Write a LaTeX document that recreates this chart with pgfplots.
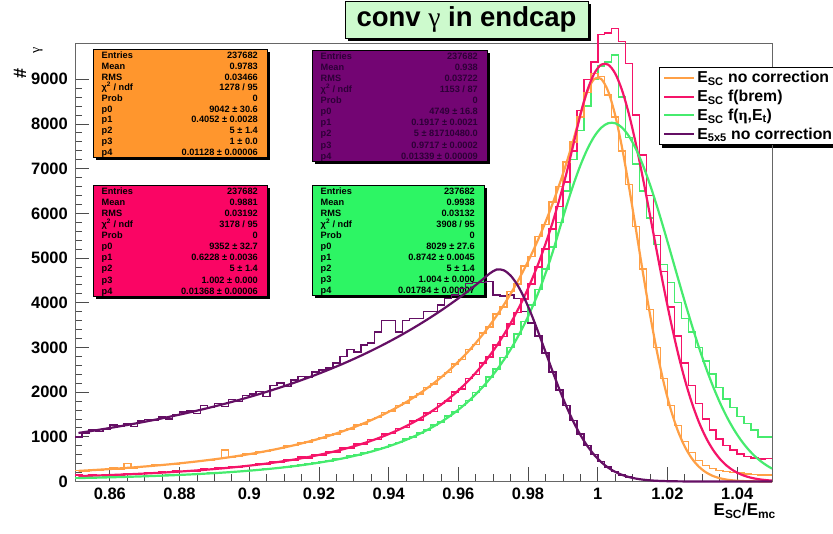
\documentclass[border=0pt]{standalone}
\usepackage{fontspec}
\setmainfont{Liberation Sans}
\newfontfamily\symf{Liberation Serif}
\usepackage{pgfplots}
\pgfplotsset{compat=1.18}
\usepackage{pgfplotstable}
\usetikzlibrary{shadows}

\definecolor{cor}{RGB}{255,160,70}
\definecolor{cpk}{RGB}{245,20,105}
\definecolor{cgr}{RGB}{70,235,110}
\definecolor{cpu}{RGB}{100,15,100}
\definecolor{bor}{RGB}{255,150,45}
\definecolor{bpk}{RGB}{250,5,100}
\definecolor{bgr}{RGB}{45,245,100}
\definecolor{bpu}{RGB}{115,5,115}
\definecolor{tpu}{RGB}{45,0,55}
\definecolor{ttl}{RGB}{205,250,205}

\pgfplotstableread{
xl xc oh of ph pf gh gf uh uf
0.850 0.851 250 237.1 140 120.4 80 77.0 1000 1086.2
0.852 0.853 240 245.7 120 125.3 95 80.3 1080 1109.8
0.854 0.855 262 254.6 150 130.4 75 83.8 1150 1133.9
0.856 0.857 258 263.9 130 135.8 90 87.4 1120 1158.8
0.858 0.859 270 273.6 145 141.4 100 91.3 1180 1184.2
0.860 0.861 300 283.8 160 147.4 90 95.3 1260 1210.4
0.862 0.863 285 294.3 150 153.6 105 99.6 1240 1237.1
0.864 0.865 400 305.4 175 160.2 100 104.1 1290 1264.7
0.866 0.867 300 317.0 160 167.1 115 108.8 1230 1292.9
0.868 0.869 340 329.1 180 174.3 110 113.8 1350 1321.9
0.870 0.871 330 341.8 200 181.9 125 119.1 1390 1351.8
0.872 0.873 372 355.1 185 190.0 120 124.7 1360 1382.4
0.874 0.875 355 369.0 210 198.4 135 130.6 1440 1413.8
0.876 0.877 380 383.5 200 207.4 140 136.8 1400 1446.2
0.878 0.879 392 398.8 230 216.8 140 143.4 1500 1479.4
0.880 0.881 430 414.7 220 226.7 160 150.4 1560 1513.6
0.882 0.883 420 431.5 250 237.2 155 157.8 1580 1548.6
0.884 0.885 445 449.0 240 248.3 170 165.6 1520 1584.7
0.886 0.887 470 467.5 275 259.9 175 173.9 1700 1621.7
0.888 0.889 478 486.8 265 272.4 185 182.8 1650 1659.9
0.890 0.891 515 507.1 300 285.4 195 192.1 1740 1699.1
0.892 0.893 700 528.5 290 299.3 200 202.0 1680 1739.4
0.894 0.895 545 550.9 335 313.8 215 212.5 1840 1780.9
0.896 0.897 570 574.5 320 329.4 225 223.8 1790 1823.6
0.898 0.899 610 599.3 360 345.8 240 235.7 1920 1867.4
0.900 0.901 620 625.3 355 363.3 245 248.5 1960 1912.7
0.902 0.903 660 652.8 400 381.7 265 261.9 2010 1959.0
0.904 0.905 670 681.7 390 401.5 280 276.4 1900 2007.0
0.906 0.907 720 712.2 440 422.2 290 291.8 2150 2056.2
0.908 0.909 740 744.4 430 444.5 315 308.3 2200 2107.0
0.910 0.911 790 778.2 490 468.0 325 325.8 2130 2159.1
0.912 0.913 805 814.0 480 493.3 350 344.6 2270 2213.0
0.914 0.915 860 851.8 545 519.9 365 364.6 2350 2268.3
0.916 0.917 880 891.6 530 548.6 395 386.3 2340 2325.5
0.918 0.919 945 933.8 600 578.8 410 409.2 2450 2384.2
0.920 0.921 975 978.3 595 611.5 445 434.1 2500 2444.9
0.922 0.923 1040 1025.4 670 645.9 460 460.5 2540 2507.3
0.924 0.925 1060 1075.2 665 683.2 500 489.2 2650 2571.9
0.926 0.927 1140 1128.1 750 722.6 520 519.6 2800 2638.0
0.928 0.929 1170 1184.0 745 765.2 565 552.8 2950 2706.7
0.930 0.931 1260 1243.3 840 810.4 590 588.2 2900 2777.1
0.932 0.933 1290 1306.2 835 859.5 640 626.7 3050 2850.1
0.934 0.935 1390 1373.0 940 911.4 670 667.8 3100 2925.0
0.936 0.937 1430 1443.9 945 967.9 730 712.8 3350 3002.8
0.938 0.939 1540 1519.2 1060 1027.9 760 760.8 3600 3082.6
0.940 0.941 1580 1599.3 1070 1093.2 830 813.5 3600 3165.3
0.942 0.943 1700 1684.5 1190 1162.7 870 869.8 3350 3250.3
0.944 0.945 1760 1775.3 1210 1238.6 950 931.7 3600 3338.7
0.946 0.947 1890 1871.9 1350 1319.4 1000 998.0 3650 3429.2
0.948 0.949 1960 1975.0 1380 1407.7 1090 1071.2 3650 3523.3
0.950 0.951 2100 2084.9 1530 1502.0 1150 1149.6 3800 3620.0
0.952 0.953 2180 2202.2 1570 1605.3 1260 1236.4 3800 3720.4
0.954 0.955 2350 2327.6 1750 1715.7 1330 1329.7 3950 3823.6
0.956 0.957 2440 2461.6 1800 1837.1 1460 1433.2 4100 3930.9
0.958 0.959 2630 2605.0 2000 1967.0 1550 1544.7 4170 4041.2
0.960 0.961 2730 2758.5 2070 2110.2 1700 1668.8 4320 4155.9
0.962 0.963 2950 2923.0 2300 2263.8 1810 1802.8 4430 4273.8
0.964 0.965 3070 3099.6 2390 2433.6 1990 1952.4 4450 4396.5
0.966 0.967 3320 3289.0 2650 2616.2 2130 2114.4 4450 4522.7
0.968 0.969 3460 3492.4 2780 2818.5 2340 2295.9 4470 4653.7
0.970 0.971 3750 3711.1 3050 3036.4 2520 2493.1 4170 4743.5
0.972 0.973 3900 3946.6 3240 3278.6 2770 2714.8 4150 4726.7
0.974 0.975 4250 4200.1 3520 3540.1 3000 2956.1 4170 4606.9
0.976 0.977 4420 4473.5 3780 3831.8 3300 3228.5 4100 4391.2
0.978 0.979 4820 4768.5 4080 4147.5 3580 3526.0 3800 4093.2
0.980 0.981 5030 5086.8 4420 4500.9 3950 3863.4 3550 3731.2
0.982 0.983 5480 5431.3 4800 4884.2 4300 4233.1 3250 3326.3
0.984 0.985 5750 5804.1 5200 5315.3 4750 4654.2 2870 2899.7
0.986 0.987 6250 6208.0 5650 5784.3 5250 5117.2 2450 2472.2
0.988 0.989 6600 6646.3 6150 6313.1 5800 5638.4 2050 2061.2
0.990 0.991 7150 7122.2 6700 6890.4 6500 6156.8 1700 1680.6
0.992 0.993 7600 7639.6 7400 7538.2 7200 6639.1 1360 1339.9
0.994 0.995 8150 8202.9 8300 8204.4 7850 7069.6 1060 1044.9
0.996 0.997 8700 8727.8 9000 8747.7 8400 7434.1 810 796.9
0.998 0.999 9130 9006.5 9390 9129.8 9000 7719.8 600 594.3
1.000 1.001 9060 9006.5 10000 9327.0 9300 7916.3 450 433.4
1.002 1.003 8650 8727.8 10030 9327.0 9390 8016.4 320 309.1
1.004 1.005 8150 8195.9 10140 9129.8 9540 8016.4 220 215.5
1.006 1.007 7400 7458.3 9840 8747.7 8600 7916.3 150 147.0
1.008 1.009 6650 6577.2 9350 8204.4 7700 7719.8 100 98.1
1.010 1.011 5700 5620.6 8200 7532.2 7100 7434.1 70 64.0
1.012 1.013 4750 4654.1 7300 6768.9 6500 7069.6 40 40.8
1.014 1.015 3850 3734.7 6400 5954.2 5900 6639.1 25 25.5
1.016 1.017 3000 2904.4 5500 5126.5 5300 6156.8 15 15.5
1.018 1.019 2300 2188.6 4700 4320.9 4850 5638.4 10 9.3
1.020 1.021 1700 1598.3 3900 3564.6 4450 5099.2 8 5.4
1.022 1.023 1250 1131.1 3250 2878.6 4000 4553.7 5 3.1
1.024 1.025 900 775.8 2650 2275.5 3650 4015.9 3 1.7
1.026 1.027 650 515.6 2150 1760.5 3350 3497.3 2 0.9
1.028 1.029 470 332.0 1750 1333.6 3000 3007.7 2 0.5
1.030 1.031 360 207.2 1400 988.8 2700 2554.4 1 0.2
1.032 1.033 290 125.3 1150 717.6 2400 2142.1 1 0.1
1.034 1.035 250 73.4 950 509.7 2100 1774.1 0 0
1.036 1.037 220 41.7 800 354.3 1850 1450.8 0 0
1.038 1.039 200 22.9 700 241.2 1650 1171.9 0 0
1.040 1.041 190 12.2 620 160.7 1450 934.7 0 0
1.042 1.043 170 6.3 560 104.8 1300 736.2 0 0
1.044 1.045 160 3.2 530 66.9 1150 572.5 0 0
1.046 1.047 150 1.5 500 41.8 1000 439.6 0 0
1.048 1.049 140 0.7 510 25.6 990 333.4 0 0
1.050 1.050 140 0.5 510 19.8 990 289.4 0 0
}\datatab

\newcommand\statfont{\bfseries\fontsize{9.2}{11}\selectfont}
% #1 x0, #2 ytop, #3 x1, #4 ybot (pixels from top), #5 fill, #6 text colour, #7 values
\newcommand\statbox[7]{%
  \fill[black] (#1pt+3pt,534pt-#4pt-3pt) rectangle (#3pt+3pt,534pt-#2pt-3pt);
  \filldraw[fill=#5,draw=black,line width=0.6pt] (#1pt,534pt-#4pt) rectangle (#3pt,534pt-#2pt);
  \foreach \lab [count=\i from 0] in {Entries,Mean,RMS,{χ\textsuperscript{2} / ndf},Prob,p0,p1,p2,p3,p4} {
    \pgfmathsetmacro\yy{534-#2-9.6-(#4-#2-11.5)*\i/9}
    \node[anchor=base west,inner sep=0pt,text=#6,font=\statfont] at (#1pt+8.5pt,\yy pt) {\lab};
  }
  \foreach \val [count=\i from 0] in {#7} {
    \pgfmathsetmacro\yy{534-#2-9.6-(#4-#2-11.5)*\i/9}
    \node[anchor=base east,inner sep=0pt,text=#6,font=\statfont] at (#3pt-9pt,\yy pt) {\val};
  }
}

\begin{document}
\begin{tikzpicture}
\useasboundingbox (0,0) rectangle (833pt,534pt);
\fill[white] (0,0) rectangle (833pt,534pt);

\statbox{93}{49}{267}{157}{bor}{black}{237682,0.9783,0.03466,1278 / 95,0,9042 ± 30.6,0.4052 ± 0.0028,5 ± 1.4,1 ± 0.0,0.01128 ± 0.00006}
\statbox{312}{50}{487}{161}{bpu}{tpu}{237682,0.938,0.03722,1153 / 87,0,4749 ± 16.8,0.1917 ± 0.0021,5 ± 81710480.0,0.9717 ± 0.0002,0.01339 ± 0.00009}
\statbox{93}{185}{267}{296}{bpk}{black}{237682,0.9881,0.03192,3178 / 95,0,9352 ± 32.7,0.6228 ± 0.0036,5 ± 1.4,1.002 ± 0.000,0.01368 ± 0.00006}
\statbox{312}{185}{484}{295}{bgr}{black}{237682,0.9938,0.03132,3908 / 95,0,8029 ± 27.6,0.8742 ± 0.0045,5 ± 1.4,1.004 ± 0.000,0.01784 ± 0.00007}

% shadow of the legend box
\fill[black] (662pt,534pt-148pt) rectangle (850pt,534pt-70pt);

\begin{axis}[
  at={(75pt,52.5pt)}, anchor=south west,
  scale only axis, width=697pt, height=438pt,
  xmin=0.85, xmax=1.05, ymin=0, ymax=9800,
  clip=false,
  axis line style={draw=black!60, line width=0.9pt},
  xtick={0.86,0.88,0.9,0.92,0.94,0.96,0.98,1,1.02,1.04},
  xticklabels={0.86,0.88,0.9,0.92,0.94,0.96,0.98,1,1.02,1.04},
  ytick={0,1000,2000,3000,4000,5000,6000,7000,8000,9000},
  yticklabels={0,1000,2000,3000,4000,5000,6000,7000,8000,9000},
  minor x tick num=3, minor y tick num=4,
  xtick pos=left, ytick pos=left,
  tick align=inside,
  major tick length=14pt, minor tick length=7pt,
  tick style={black!70, line width=0.8pt},
  scaled x ticks=false, scaled y ticks=false,
  /pgf/number format/assume math mode=true,
  ticklabel style={font=\bfseries\fontsize{16.5}{18}\selectfont},
  xticklabel style={inner sep=0pt, yshift=-6.5pt},
  yticklabel style={inner sep=0pt, xshift=-7pt},
  legend style={at={(axis description cs:0.8379,0.9463)}, anchor=north west,
    draw=black, fill=white, line width=0.6pt,
    font=\bfseries\fontsize{15.8}{18}\selectfont,
    inner xsep=4pt, inner ysep=2pt, row sep=1.8pt},
  legend cell align=left,
  legend image code/.code={\draw[#1, line width=2pt] (0pt,0pt) -- (30pt,0pt);},
]
\addplot[cpu, line width=1.5pt, const plot mark left, forget plot] table[x=xl,y=uh]{\datatab};
\addplot[cgr, line width=1.5pt, const plot mark left, forget plot] table[x=xl,y=gh]{\datatab};
\addplot[cpk, line width=1.5pt, const plot mark left, forget plot] table[x=xl,y=ph]{\datatab};
\addplot[cor, line width=1.5pt, const plot mark left, forget plot] table[x=xl,y=oh]{\datatab};

\addplot[cor, line width=2.2pt, smooth] table[x=xc,y=of]{\datatab};
\addlegendentry{E\textsubscript{SC} no correction}
\addplot[cpk, line width=2.2pt, smooth] table[x=xc,y=pf]{\datatab};
\addlegendentry{E\textsubscript{SC} f(brem)}
\addplot[cgr, line width=2.2pt, smooth] table[x=xc,y=gf]{\datatab};
\addlegendentry{E\textsubscript{SC} f({\symf η},E\textsubscript{t})}
\addplot[cpu, line width=2.2pt, smooth] table[x=xc,y=uf]{\datatab};
\addlegendentry{E\textsubscript{5x5} no correction}
\end{axis}

\node[fill=ttl, draw=black, line width=0.8pt, minimum width=243pt, minimum height=37pt, inner sep=0pt,
  drop shadow={shadow xshift=3pt, shadow yshift=-3pt, fill=black, opacity=1},
  font=\bfseries\fontsize{27.5}{30}\selectfont] at (466.5pt,514.5pt) {conv {\symf\mdseries γ} in endcap};

\node[rotate=90, font=\bfseries\fontsize{18}{20}\selectfont, inner sep=0pt] at (20pt,460pt) {\#};
\node[rotate=90, font=\symf\fontsize{14}{16}\selectfont, inner sep=0pt] at (38pt,484pt) {γ};

\node[anchor=north east, inner sep=0pt, font=\bfseries\fontsize{17}{19}\selectfont] at (776pt,31pt) {E\textsubscript{SC}/E\textsubscript{mc}};
\end{tikzpicture}
\end{document}
